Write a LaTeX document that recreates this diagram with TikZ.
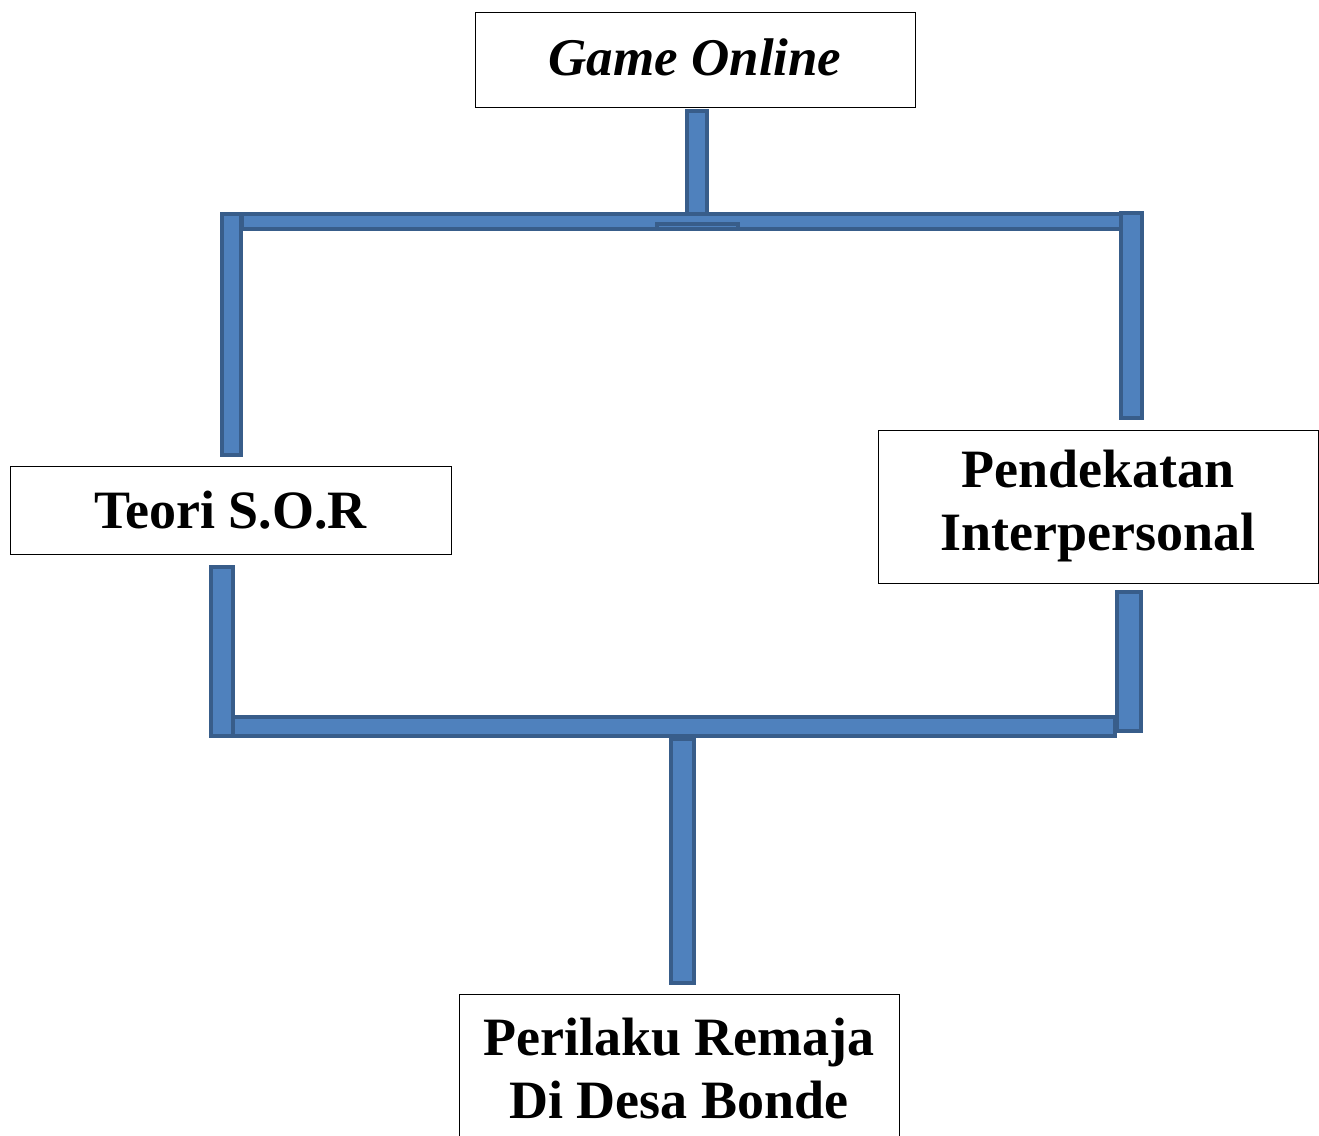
\documentclass[tikz,border=0pt]{standalone}
\usepackage{fontspec}
\setmainfont{Liberation Serif}
\definecolor{barfill}{HTML}{4F81BD}
\definecolor{barline}{HTML}{385D8A}
\tikzset{
  box/.style={draw=black,line width=0.9pt,minimum width=440pt,inner sep=0pt,
    align=center,font=\fontsize{54}{63}\selectfont\bfseries},
  bar/.style={fill=barfill,draw=barline,line width=3.3pt},
}
\begin{document}
\begin{tikzpicture}[x=1pt,y=-1pt]
\clip (0,0) rectangle (1319,1135);
\fill[white] (0,0) rectangle (1319,1135);
% boxes
\node[box,minimum height=95pt] (game) at (695,59.5) {\fontsize{53}{63}\selectfont\itshape\raisebox{4pt}{Game Online}};
\node[box,minimum height=88pt,minimum width=441pt] (teori) at (230.5,510) {Teori S.O.R};
\node[box,minimum height=153pt] (pendekatan) at (1098,506.5) {Pendekatan\\Interpersonal};
\node[box,minimum height=150pt] (perilaku) at (679,1069) {Perilaku Remaja\\Di Desa Bonde};
% upper bars
\draw[bar] (687,111) rectangle (707,222);
\draw[bar] (242,214) rectangle (1121,229);
\draw[bar] (657,224) rectangle (738,229);
\draw[bar] (222,214) rectangle (241,455);
\draw[bar] (1121,213) rectangle (1142,418);
% lower bars
\draw[bar] (211,567) rectangle (233,736);
\draw[bar] (233,717) rectangle (1115,736);
\draw[bar] (1117,592) rectangle (1141,731);
\draw[bar] (671,739) rectangle (694,983);
\end{tikzpicture}
\end{document}
